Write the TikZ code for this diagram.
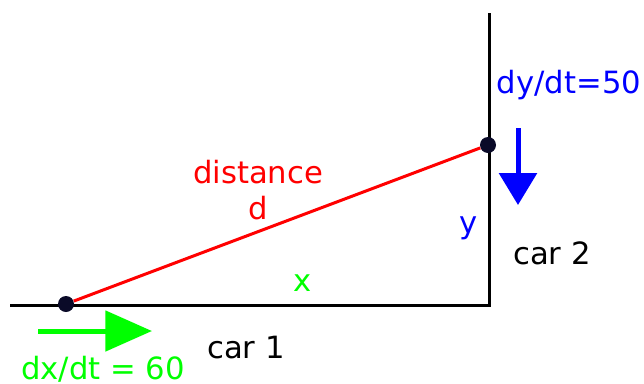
\documentclass[tikz,border=0pt]{standalone}
\usepackage{fontspec}
\setmainfont{DejaVu Sans}
\usetikzlibrary{arrows.meta}
\definecolor{inkdot}{HTML}{0A0A28}
\definecolor{speedgreen}{HTML}{00FF00}
\definecolor{speedblue}{HTML}{0000FF}

\begin{document}
\begin{tikzpicture}[x=0.75pt, y=-0.75pt,
  road/.style={line width=2.25pt, color=black},
  cardot/.style={circle, fill=inkdot, inner sep=0pt, minimum size=12pt},
  lbl/.style={font=\fontsize{23}{27}\selectfont, inner sep=0pt, align=center}]
\useasboundingbox (0,0) rectangle (644,383);
% roads and cars
\coordinate (west) at (10,305);
\coordinate (corner) at (489,305);
\coordinate (north) at (489,13);
\draw[road] (west) -- (corner) -- (north);
\node[cardot] (car1) at (66,304) {};
\node[cardot] (car2) at (488,145) {};
\draw[line width=2.25pt, color=red] (car1) -- (car2);
% speeds
\coordinate (gfrom) at (38,331);
\coordinate (gto) at (152,331);
\draw[-{Triangle[length=35pt,width=30pt]}, line width=3.75pt, color=speedgreen] (gfrom) -- (gto);
\coordinate (bfrom) at (518,128);
\coordinate (bto) at (518,205);
\draw[-{Triangle[length=24pt,width=28pt]}, line width=3.75pt, color=speedblue] (bfrom) -- (bto);
% labels
\node[lbl, text=red] (dist) at (258,190) {distance\\d};
\node[lbl, text=speedgreen] (xlbl) at (303,283) {x};
\node[lbl, text=speedblue] (ylbl) at (469,228) {y};
\node[lbl] (car1lbl) at (246,348) {car 1};
\node[lbl] (car2lbl) at (552,253) {car 2};
\node[lbl, text=speedgreen] (dxdt) at (103,369) {dx/dt = 60};
\node[lbl, text=speedblue] (dydt) at (569,85) {dy/dt=50};
\end{tikzpicture}
\end{document}
